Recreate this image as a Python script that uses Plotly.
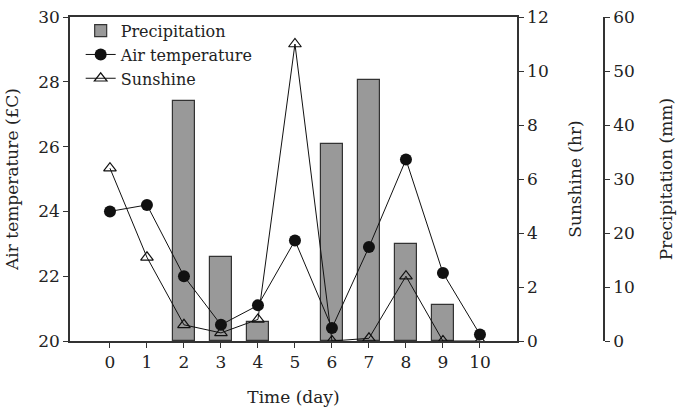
import plotly.graph_objects as go

days = [0, 1, 2, 3, 4, 5, 6, 7, 8, 9, 10]
precip_days = [2, 3, 4, 6, 7, 8, 9]
precipitation = [44.4, 15.6, 3.6, 36.4, 48.3, 18.0, 6.7]
air_temp = [24.0, 24.2, 22.0, 20.5, 21.1, 23.1, 20.4, 22.9, 25.6, 22.1, 20.2]
sunshine = [6.4, 3.1, 0.6, 0.3, 0.8, 11.0, 0.0, 0.1, 2.4, 0.0, 0.0]
x_ticks = [0, 1, 2, 3, 4, 5, 6, 7, 8, 9, 10]

FONT = "DejaVu Serif"
AX = "#333333"

fig = go.Figure()
fig.add_trace(go.Bar(
    x=precip_days, y=precipitation, name="Precipitation", yaxis="y",
    width=0.6, marker=dict(color="#999999", line=dict(color="#333333", width=1.2)),
))
fig.add_trace(go.Scatter(
    x=days, y=air_temp, name="Air temperature", yaxis="y2", mode="lines+markers",
    line=dict(color="#111111", width=1),
    marker=dict(symbol="circle", size=12, color="#111111"),
))
fig.add_trace(go.Scatter(
    x=days, y=sunshine, name="Sunshine", yaxis="y3", mode="lines+markers",
    line=dict(color="#111111", width=1),
    marker=dict(symbol="triangle-up-open", size=11, color="#111111", line=dict(width=1.2)),
))

tickfont = dict(family=FONT, size=17, color="#222222")
titlefont = dict(family=FONT, size=17, color="#222222")

fig.update_layout(
    width=686, height=408,
    margin=dict(l=70, r=82, t=17, b=67, autoexpand=False),
    plot_bgcolor="white", paper_bgcolor="white",
    font=dict(family=FONT, size=17, color="#222222"),
    bargap=0,
    xaxis=dict(
        domain=[0, 0.837], range=[-1.08, 11.0], tickvals=x_ticks, automargin=False,
        showline=True, linecolor=AX, linewidth=1.5, mirror=True,
        ticks="outside", ticklen=5, tickcolor=AX, showgrid=False, zeroline=False,
        tickfont=tickfont, title=dict(text="Time (day)", font=titlefont, standoff=20),
    ),
    yaxis=dict(
        range=[0, 60], dtick=10, side="right", anchor="free", position=1.0, automargin=False,
        showline=True, linecolor=AX, linewidth=1.5,
        ticks="outside", ticklen=5, tickcolor=AX, showgrid=False, zeroline=False,
        tickfont=tickfont, title=dict(text="Precipitation (mm)", font=titlefont, standoff=25),
    ),
    yaxis2=dict(
        range=[20, 30], dtick=2, side="left", overlaying="y", anchor="x", automargin=False,
        showline=True, linecolor=AX, linewidth=1.5,
        ticks="outside", ticklen=5, tickcolor=AX, showgrid=False, zeroline=False,
        tickfont=tickfont, title=dict(text="Air temperature (£C)", font=titlefont, standoff=15),
    ),
    yaxis3=dict(
        range=[0, 12], dtick=2, side="right", overlaying="y", anchor="x", automargin=False,
        showline=True, linecolor=AX, linewidth=1.5,
        ticks="outside", ticklen=5, tickcolor=AX, showgrid=False, zeroline=False,
        tickfont=tickfont, title=dict(text="Sunshine (hr)", font=titlefont, standoff=21),
    ),
    legend=dict(
        x=0.02, y=1.01, xanchor="left", yanchor="top", bgcolor="rgba(0,0,0,0)",
        font=dict(family=FONT, size=16, color="#222222"),
        tracegroupgap=0, itemwidth=30,
    ),
)

fig.write_html("out.html")
